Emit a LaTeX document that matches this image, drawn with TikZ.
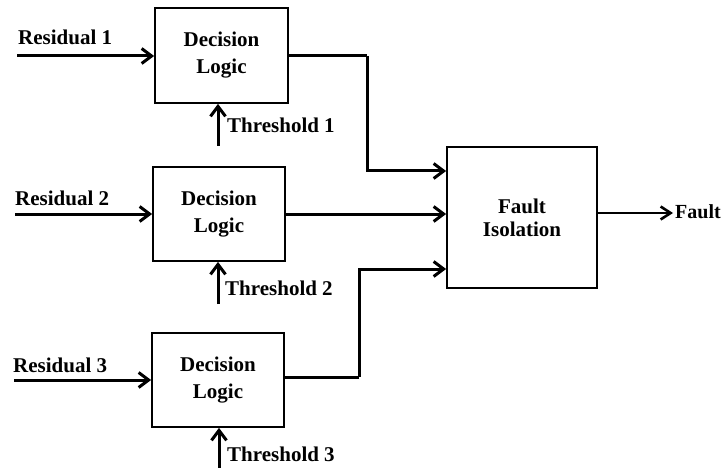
\documentclass[tikz,border=0pt]{standalone}
\usepackage{fontspec}
\setmainfont{Liberation Serif}
\usetikzlibrary{arrows.meta}
\begin{document}
\begin{tikzpicture}[x=1pt,y=-1pt,
  block/.style={draw,line width=1.7pt,inner sep=0pt,align=center,
    font=\bfseries\fontsize{21}{27}\selectfont},
  lbl/.style={inner sep=0pt,font=\bfseries\fontsize{21}{24}\selectfont},
  wire/.style={line width=3pt},
  sig/.style={wire,-{Straight Barb[length=10pt,width=15pt,line width=3pt]}}]
\useasboundingbox (0,0) rectangle (723,468);

% decision blocks and the isolation block
\node[block,minimum width=133pt,minimum height=95pt] (b1) at (221.5,55.5) {Decision\\Logic};
\node[block,minimum width=132pt,minimum height=94pt] (b2) at (219,214) {Decision\\Logic};
\node[block,minimum width=132pt,minimum height=94pt] (b3) at (218,380) {Decision\\Logic};
\node[block,minimum width=150pt,minimum height=141pt,
  font=\bfseries\fontsize{21}{23}\selectfont] (fi) at (522,217.5) {Fault\\Isolation};

% residual inputs
\coordinate (r1) at (17,56);
\coordinate (r2) at (15,214);
\coordinate (r3) at (14,380);
\draw[sig] (r1) -- (r1 -| b1.west);
\draw[sig] (r2) -- (r2 -| b2.west);
\draw[sig] (r3) -- (r3 -| b3.west);
\node[lbl,anchor=base west] (lr1) at (18,45) {Residual 1};
\node[lbl,anchor=base west] (lr2) at (15,205) {Residual 2};
\node[lbl,anchor=base west] (lr3) at (13,372) {Residual 3};

% threshold inputs
\coordinate (t1) at (218,146);
\coordinate (t2) at (218,304);
\coordinate (t3) at (219,468);
\draw[sig] (t1) -- (t1 |- b1.south);
\draw[sig] (t2) -- (t2 |- b2.south);
\draw[sig] (t3) -- (t3 |- b3.south);
\node[lbl,anchor=base west] (lt1) at (227,133) {Threshold 1};
\node[lbl,anchor=base west] (lt2) at (225,295) {Threshold 2};
\node[lbl,anchor=base west] (lt3) at (227,461) {Threshold 3};

% routing of the decisions into the isolation block
\coordinate (j1) at (367,56);
\coordinate (k1) at (367,171);
\coordinate (j3) at (359,377);
\coordinate (k3) at (359,269);
\draw[wire] (b1.east |- j1) -- (j1);
\draw[sig] (j1) -- (k1) -- (k1 -| fi.west);
\draw[sig] (b2.east) -- (b2.east -| fi.west);
\draw[wire] (b3.east |- j3) -- (j3);
\draw[sig] (j3) -- (k3) -- (k3 -| fi.west);

% output
\coordinate (o) at (673,213);
\draw[line width=2.3pt,-{Straight Barb[length=10pt,width=13pt,line width=2.6pt]}] (fi.east |- o) -- (o);
\node[lbl,anchor=base west,font=\bfseries\fontsize{20}{24}\selectfont] (lo) at (675,218) {Fault};
\end{tikzpicture}
\end{document}
